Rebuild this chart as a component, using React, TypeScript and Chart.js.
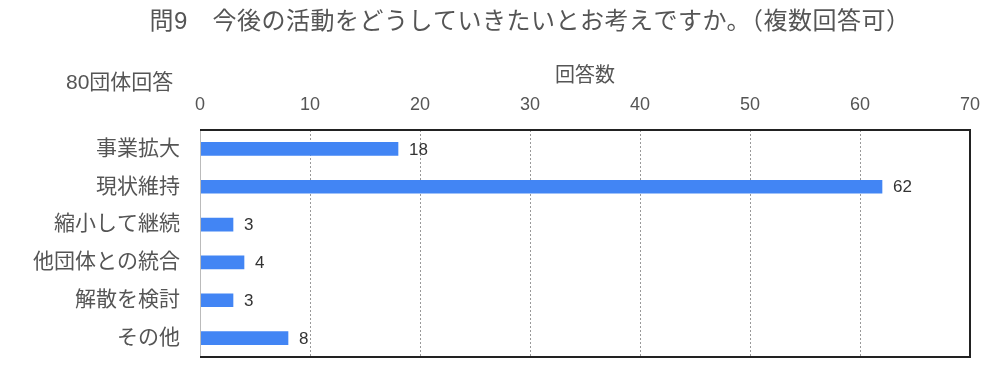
import React, { useEffect, useRef } from "react";
import { Chart, registerables } from "chart.js";

Chart.register(...registerables);

const titleText = "問9　今後の活動をどうしていきたいとお考えですか。（複数回答可）";
const noteText = "80団体回答";
const axisTitle = "回答数";
const categories = ["事業拡大", "現状維持", "縮小して継続", "他団体との統合", "解散を検討", "その他"];
const counts = [18, 62, 3, 4, 3, 8];
const xMin = 0;
const xMax = 70;
const xStep = 10;

const FONT = '"Liberation Sans", "Noto Sans CJK JP", sans-serif';
const TEXT = "#555555";

export default function App() {
  const ref = useRef<HTMLCanvasElement | null>(null);

  useEffect(() => {
    if (!ref.current) return;
    const extras = {
      id: "extras",
      afterDraw(chart: any) {
        const { ctx, chartArea } = chart;
        ctx.save();
        // title
        ctx.fillStyle = TEXT;
        ctx.font = `24px ${FONT}`;
        ctx.textAlign = "center";
        ctx.textBaseline = "middle";
        try { (ctx as any).letterSpacing = "0.5px"; } catch (e) {}
        ctx.fillText(titleText, 530, 22);
        try { (ctx as any).letterSpacing = "0px"; } catch (e) {}
        // note
        ctx.font = `21px ${FONT}`;
        ctx.textAlign = "left";
        ctx.fillText(noteText, 66, 83);
        // border
        ctx.strokeStyle = "#bbbbbb";
        ctx.lineWidth = 1;
        ctx.beginPath();
        ctx.moveTo(chartArea.left + 0.5, chartArea.top);
        ctx.lineTo(chartArea.left + 0.5, chartArea.bottom);
        ctx.stroke();
        ctx.strokeStyle = "#222222";
        ctx.lineWidth = 2;
        ctx.beginPath();
        ctx.moveTo(chartArea.left, chartArea.top);
        ctx.lineTo(chartArea.right, chartArea.top);
        ctx.lineTo(chartArea.right, chartArea.bottom);
        ctx.lineTo(chartArea.left, chartArea.bottom);
        ctx.stroke();
        // data labels
        const meta = chart.getDatasetMeta(0);
        ctx.fillStyle = "#333333";
        ctx.font = `17px ${FONT}`;
        ctx.textAlign = "left";
        ctx.textBaseline = "middle";
        meta.data.forEach((el: any, i: number) => {
          ctx.fillText(String(counts[i]), el.x + 11, el.y + 1);
        });
        ctx.restore();
      },
    };

    const chart = new Chart(ref.current, {
      type: "bar",
      data: {
        labels: categories,
        datasets: [
          {
            data: counts,
            backgroundColor: "#4285F4",
            borderWidth: 0,
            barThickness: 13,
          },
        ],
      },
      options: {
        indexAxis: "y",
        animation: false,
        responsive: false,
        maintainAspectRatio: false,
        layout: { padding: { top: 60, left: 0, right: 30, bottom: 14 } },
        plugins: {
          legend: { display: false },
          tooltip: { enabled: false },
          title: { display: false },
        },
        scales: {
          x: {
            position: "top",
            min: xMin,
            max: xMax,
            ticks: {
              stepSize: xStep,
              color: TEXT,
              font: { size: 18, family: FONT },
              padding: 14,
            },
            grid: {
              display: true,
              color: "#999999",
              lineWidth: 1,
              drawTicks: false,
            },
            border: { display: false, dash: [2, 2] },
            title: {
              display: true,
              text: axisTitle,
              color: TEXT,
              font: { size: 20, family: FONT },
              padding: { top: 4, bottom: 0 },
            },
            afterFit(scale: any) {
              scale.height = 70;
              scale.paddingLeft = 0;
              scale.paddingRight = 0;
            },
          },
          y: {
            ticks: {
              color: TEXT,
              font: { size: 21, family: FONT },
              padding: 20,
            },
            grid: { display: false, drawTicks: false },
            border: { display: false },
            afterFit(scale: any) {
              scale.width = 200;
              scale.paddingTop = 0;
              scale.paddingBottom = 0;
            },
          },
        },
      },
      plugins: [extras],
    } as any);
    return () => chart.destroy();
  }, []);

  return (
    <div style={{ position: "fixed", left: 0, top: 0, width: 1000, height: 371, background: "#fff" }}>
      <canvas ref={ref} width={1000} height={371} style={{ width: 1000, height: 371, display: "block" }} />
    </div>
  );
}
